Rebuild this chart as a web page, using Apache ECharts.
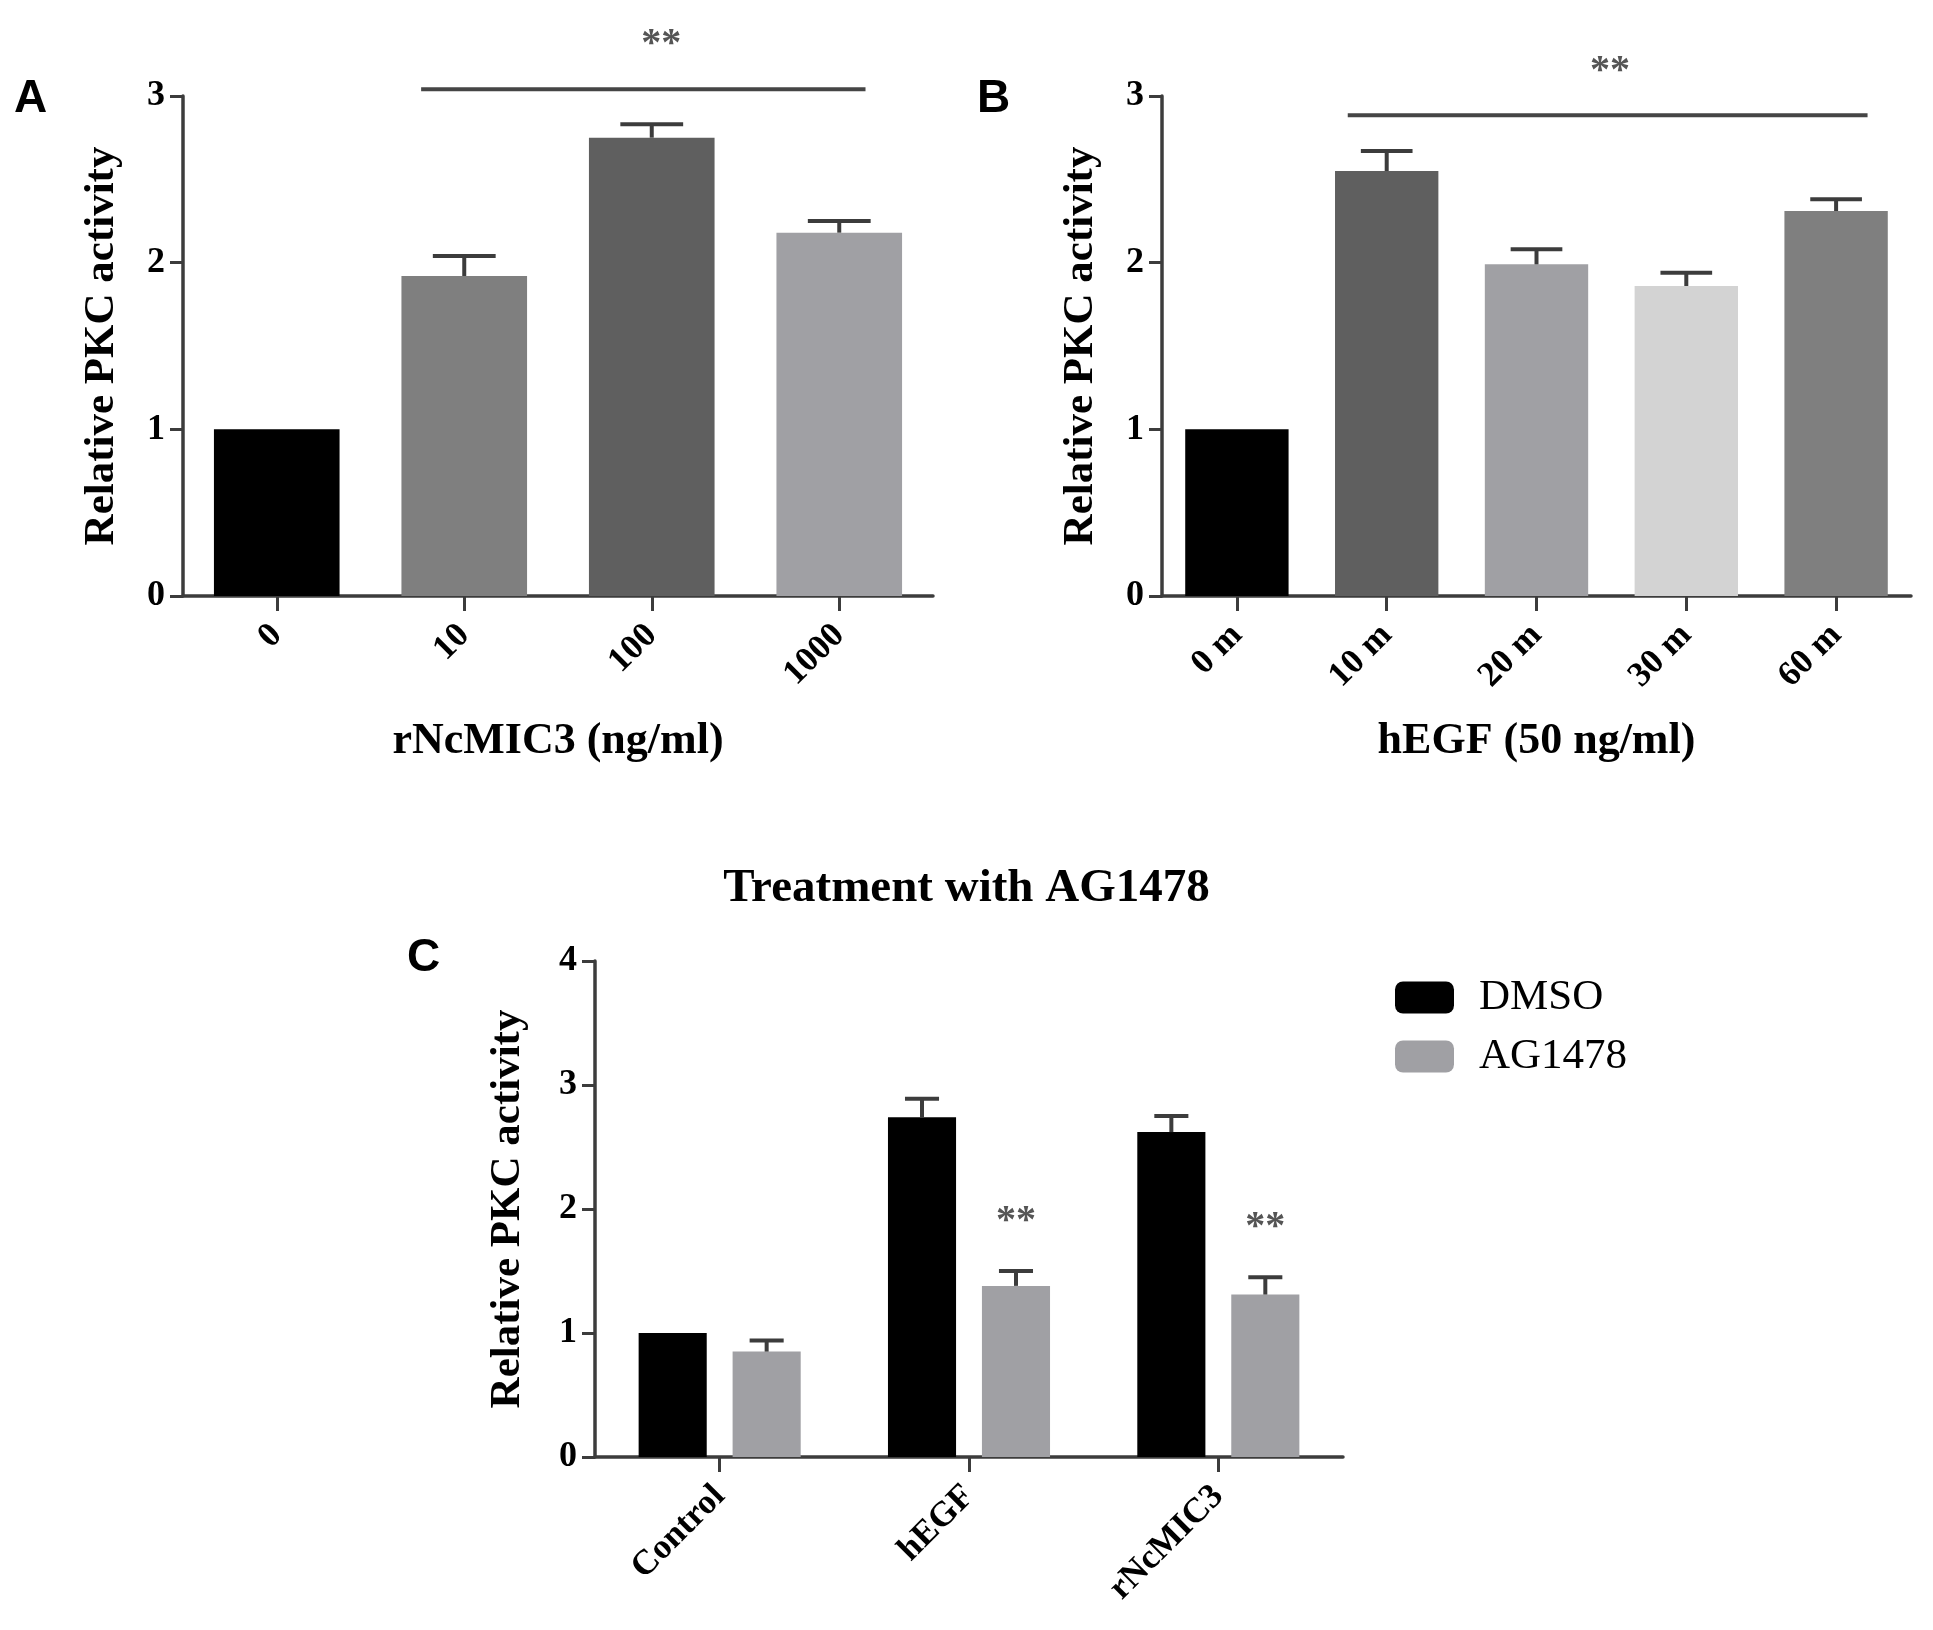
<!DOCTYPE html>
<html lang="en">
<head>
    <meta charset="UTF-8">
    <title>PKC activity</title>
    <style>
        body { margin: 0; background: #fff; }
        #main { width: 1933px; height: 1630px; }
    </style>
</head>
<body>
    <div id="main"></div>
    <script src="https://cdn.jsdelivr.net/npm/echarts@6/dist/echarts.min.js"></script>
    <script>
        // panel A
        var catsA = ['0', '10', '100', '1000'];
        var valuesA = [1.0, 1.92, 2.75, 2.18];
        var errorsA = [0, 0.12, 0.08, 0.07];
        var colorsA = ['#000000', '#7f7f7f', '#5f5f5f', '#a0a0a4'];
        var sigLineA = [0.77, 3.14, 3.04];   // from, to (category units), value
        var sigStarA = [2.05, 3.36];

        // panel B
        var catsB = ['0 m', '10 m', '20 m', '30 m', '60 m'];
        var valuesB = [1.0, 2.55, 1.99, 1.86, 2.31];
        var errorsB = [0, 0.12, 0.09, 0.08, 0.07];
        var colorsB = ['#000000', '#5f5f5f', '#a0a0a4', '#d3d3d3', '#7f7f7f'];
        var sigLineB = [0.74, 4.21, 2.885];
        var sigStarB = [2.49, 3.2];

        // panel C
        var catsC = ['Control', 'hEGF', 'rNcMIC3'];
        var dmso = [1.0, 2.74, 2.62];
        var dmsoErr = [0, 0.15, 0.13];
        var ag = [0.85, 1.38, 1.31];
        var agErr = [0.09, 0.12, 0.14];
        var starsC = [null, 1.97, 1.92];

        var serif = 'Liberation Serif';
        var axisColor = '#3c3c3c';
        var starFont = 'bold 40px "' + serif + '"';
        var gapC = 0.35, barGapC = 0.38;

        function catAxis(idx, cats, name) {
            return {
                type: 'category', gridIndex: idx, data: cats,
                axisLine: { show: true, lineStyle: { color: axisColor, width: 3.5 } },
                axisTick: { show: true, alignWithLabel: true, length: 15, lineStyle: { color: axisColor, width: 3 } },
                axisLabel: { interval: 0, rotate: 45, margin: 34, color: '#000', fontFamily: serif, fontWeight: 'bold', fontSize: 35 },
                name: name, nameLocation: 'middle', nameGap: 124,
                nameTextStyle: { color: '#000', fontFamily: serif, fontWeight: 'bold', fontSize: 44 }
            };
        }
        function valAxis(idx, max, gap) {
            return {
                type: 'value', gridIndex: idx, min: 0, max: max, interval: 1,
                axisLine: { show: true, lineStyle: { color: axisColor, width: 3.5 } },
                axisTick: { show: true, length: 13, lineStyle: { color: axisColor, width: 3 } },
                axisLabel: { margin: 18, color: '#000', fontFamily: serif, fontWeight: 'bold', fontSize: 36 },
                splitLine: { show: false },
                name: 'Relative PKC activity', nameLocation: 'middle', nameGap: gap,
                nameTextStyle: { color: '#000', fontFamily: serif, fontWeight: 'bold', fontSize: 43 }
            };
        }

        // error bars: offset is a fraction of category width
        function errSeries(idx, vals, errs, widthFrac, offsetFrac) {
            return {
                type: 'custom', xAxisIndex: idx, yAxisIndex: idx, z: 5,
                data: vals.map(function (v, i) { return [i, v, errs[i]]; }),
                renderItem: function (params, api) {
                    if (!api.value(2)) return null;
                    var catW = api.size([1, 0])[0];
                    var top = api.coord([api.value(0), api.value(1)]);
                    var cap = api.coord([api.value(0), api.value(1) + api.value(2)]);
                    var x = top[0] + offsetFrac * catW;
                    var hw = widthFrac * catW / 4;
                    var st = { stroke: axisColor, lineWidth: 4 };
                    return {
                        type: 'group', children: [
                            { type: 'line', shape: { x1: x, y1: top[1], x2: x, y2: cap[1] }, style: st },
                            { type: 'line', shape: { x1: x - hw, y1: cap[1], x2: x + hw, y2: cap[1] }, style: st }
                        ]
                    };
                }
            };
        }

        // significance bar with stars
        function sigSeries(idx, line, star) {
            return {
                type: 'custom', xAxisIndex: idx, yAxisIndex: idx, z: 5,
                data: [[0, line[2]]],
                renderItem: function (params, api) {
                    var catW = api.size([1, 0])[0];
                    var p0 = api.coord([0, line[2]]);
                    var ps = api.coord([0, star[1]]);
                    return {
                        type: 'group', children: [
                            { type: 'line', shape: { x1: p0[0] + line[0] * catW, y1: p0[1], x2: p0[0] + line[1] * catW, y2: p0[1] },
                              style: { stroke: '#454545', lineWidth: 4 } },
                            { type: 'text', x: p0[0] + star[0] * catW, y: ps[1] + 9,
                              style: { text: '**', fill: '#555', font: starFont, align: 'center', verticalAlign: 'middle' } }
                        ]
                    };
                }
            };
        }

        var barWC = (1 - gapC) / (2 + barGapC);
        var offC = barWC * (1 + barGapC) / 2;

        var option = {
            backgroundColor: '#fff',
            animation: false,
            title: {
                text: 'Treatment with AG1478', left: 'center', top: 860,
                textStyle: { color: '#000', fontFamily: serif, fontWeight: 'bold', fontSize: 47 }
            },
            legend: {
                orient: 'vertical', left: 1390, top: 971, itemWidth: 59, itemHeight: 32, itemGap: 16,
                icon: 'roundRect',
                textStyle: { color: '#000', fontFamily: serif, fontSize: 43, lineHeight: 32, padding: [0, 0, 0, 20] },
                data: ['DMSO', 'AG1478']
            },
            graphic: [
                { type: 'text', left: 14, top: 76, style: { text: 'A', fill: '#000', font: 'bold 46px "Liberation Sans"' } },
                { type: 'text', left: 977, top: 76, style: { text: 'B', fill: '#000', font: 'bold 46px "Liberation Sans"' } },
                { type: 'text', left: 407, top: 935, style: { text: 'C', fill: '#000', font: 'bold 46px "Liberation Sans"' } }
            ],
            grid: [
                { left: 183, right: 1000, top: 96, bottom: 1034 },
                { left: 1162, right: 22, top: 96, bottom: 1034 },
                { left: 595, right: 590, top: 961, bottom: 173 }
            ],
            xAxis: [
                catAxis(0, catsA, 'rNcMIC3 (ng/ml)'),
                catAxis(1, catsB, 'hEGF (50 ng/ml)'),
                catAxis(2, catsC, '')
            ],
            yAxis: [valAxis(0, 3, 60), valAxis(1, 3, 60), valAxis(2, 4, 66)],
            series: [
                {
                    type: 'bar', xAxisIndex: 0, yAxisIndex: 0, data: valuesA, barCategoryGap: '33%',
                    itemStyle: { color: function (p) { return colorsA[p.dataIndex]; } }
                },
                errSeries(0, valuesA, errorsA, 0.67, 0),
                sigSeries(0, sigLineA, sigStarA),
                {
                    type: 'bar', xAxisIndex: 1, yAxisIndex: 1, data: valuesB, barCategoryGap: '31%',
                    itemStyle: { color: function (p) { return colorsB[p.dataIndex]; } }
                },
                errSeries(1, valuesB, errorsB, 0.69, 0),
                sigSeries(1, sigLineB, sigStarB),
                {
                    name: 'DMSO', type: 'bar', xAxisIndex: 2, yAxisIndex: 2, data: dmso,
                    barCategoryGap: (gapC * 100) + '%', barGap: (barGapC * 100) + '%',
                    itemStyle: { color: '#000000' }
                },
                {
                    name: 'AG1478', type: 'bar', xAxisIndex: 2, yAxisIndex: 2, data: ag,
                    barCategoryGap: (gapC * 100) + '%', barGap: (barGapC * 100) + '%',
                    itemStyle: { color: '#a0a0a4' }
                },
                errSeries(2, dmso, dmsoErr, barWC, -offC),
                errSeries(2, ag, agErr, barWC, offC),
                {
                    type: 'custom', xAxisIndex: 2, yAxisIndex: 2, z: 5,
                    data: starsC.map(function (v, i) { return [i, v]; }).filter(function (d) { return d[1] != null; }),
                    renderItem: function (params, api) {
                        var catW = api.size([1, 0])[0];
                        var p = api.coord([api.value(0), api.value(1)]);
                        return {
                            type: 'text', x: p[0] + offC * catW, y: p[1] + 9,
                            style: { text: '**', fill: '#555', font: starFont, align: 'center', verticalAlign: 'middle' }
                        };
                    }
                }
            ]
        };

        var chart = echarts.init(document.getElementById('main'));
        chart.setOption(option);
    </script>
</body>
</html>
